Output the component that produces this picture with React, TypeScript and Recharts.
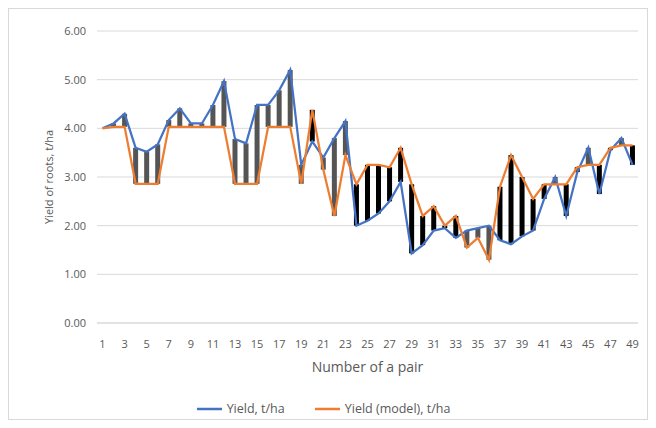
import { Bar, CartesianGrid, Cell, ComposedChart, Label, Legend, Line, XAxis, YAxis } from 'recharts';

// Dados
const pairs = Array.from({ length: 49 }, (_, i) => String(i + 1));

const yieldActual = [
    4.0, 4.1, 4.3, 3.6, 3.52, 3.67, 4.17, 4.41, 4.1, 4.1,
    4.48, 4.97, 3.78, 3.69, 4.48, 4.48, 4.78, 5.2, 3.25, 3.73,
    3.4, 3.8, 4.15, 2.0, 2.1, 2.25, 2.5, 2.9, 1.43, 1.6,
    1.9, 1.95, 1.75, 1.9, 1.95, 2.0, 1.7, 1.62, 1.78, 1.9,
    2.55, 3.0, 2.2, 3.1, 3.6, 2.65, 3.55, 3.8, 3.25,
];

const yieldModel = [
    4.0, 4.03, 4.03, 2.86, 2.86, 2.86, 4.03, 4.03, 4.03, 4.03,
    4.03, 4.03, 2.86, 2.86, 2.86, 4.03, 4.03, 4.03, 2.86, 4.38,
    3.15, 2.2, 3.45, 2.85, 3.25, 3.25, 3.2, 3.6, 2.85, 2.2,
    2.4, 2.0, 2.2, 1.55, 1.75, 1.3, 2.8, 3.45, 3.0, 2.55,
    2.85, 2.85, 2.85, 3.2, 3.25, 3.25, 3.6, 3.65, 3.65,
];

const yTicks = [0, 1, 2, 3, 4, 5, 6];

const series = [
    { key: 'actual', name: 'Yield, t/ha', color: '#4472C4' },
    { key: 'model', name: 'Yield (model), t/ha', color: '#ED7D31' },
];

const data = pairs.map((p, i) => ({
    pair: p,
    actual: yieldActual[i],
    model: yieldModel[i],
    range: [Math.min(yieldActual[i], yieldModel[i]), Math.max(yieldActual[i], yieldModel[i])],
    up: yieldActual[i] >= yieldModel[i],
}));

const font = '"Open Sans", "Noto Sans", sans-serif';
const textColor = '#595959';

// Legenda feita à mão pra controlar ordem e espaçamento
const LegendContent = () => (
    <div style={{ display: 'flex', justifyContent: 'center', fontSize: 12.5, color: textColor }}>
        {series.map((s, i) => (
            <div key={s.key} style={{ display: 'flex', alignItems: 'center', marginLeft: i ? 30 : 0 }}>
                <svg width={25} height={6} style={{ marginRight: 5 }}>
                    <line x1={0} y1={3} x2={25} y2={3} stroke={s.color} strokeWidth={2.5} />
                </svg>
                <span>{s.name}</span>
            </div>
        ))}
    </div>
)

const App = () => {
    return (
        <div style={{ width: 640, height: 412, border: '1px solid #d9d9d9', boxSizing: 'border-box', fontFamily: font }}>
            <ComposedChart
                width={638}
                height={410}
                data={data}
                margin={{ top: 22, right: 9, bottom: 2, left: 0 }}
            >
                <CartesianGrid vertical={false} stroke="#d9d9d9" />
                <XAxis
                    dataKey="pair"
                    interval={1}
                    tickLine={false}
                    tickSize={6}
                    tickMargin={11}
                    axisLine={{ stroke: '#d9d9d9' }}
                    tick={{ fill: textColor, fontSize: 11 }}
                    height={77}
                >
                    <Label value="Number of a pair" position="insideBottom" offset={28} fill={textColor} fontSize={14} />
                </XAxis>
                <YAxis
                    domain={[0, 6]}
                    ticks={yTicks}
                    width={88}
                    axisLine={false}
                    tickLine={false}
                    tickSize={6}
                    tickMargin={5}
                    tick={{ fill: textColor, fontSize: 11 }}
                    tickFormatter={(v: number) => v.toFixed(2)}
                >
                    <Label
                        value="Yield of roots, t/ha"
                        angle={-90}
                        position="insideLeft"
                        offset={40}
                        fill={textColor}
                        fontSize={11}
                        style={{ textAnchor: 'middle' }}
                    />
                </YAxis>
                <Legend verticalAlign="bottom" content={LegendContent} wrapperStyle={{ bottom: 2 }} />
                <Bar dataKey="range" barSize={5} legendType="none" isAnimationActive={false}>
                    {data.map((d, i) => (
                        <Cell key={i} fill={d.up ? '#555555' : '#000000'} />
                    ))}
                </Bar>
                {series.map((s) => (
                    <Line
                        key={s.key}
                        type="linear"
                        dataKey={s.key}
                        name={s.name}
                        stroke={s.color}
                        strokeWidth={2.25}
                        dot={false}
                        isAnimationActive={false}
                    />
                ))}
            </ComposedChart>
        </div>
    )
}

export default App
